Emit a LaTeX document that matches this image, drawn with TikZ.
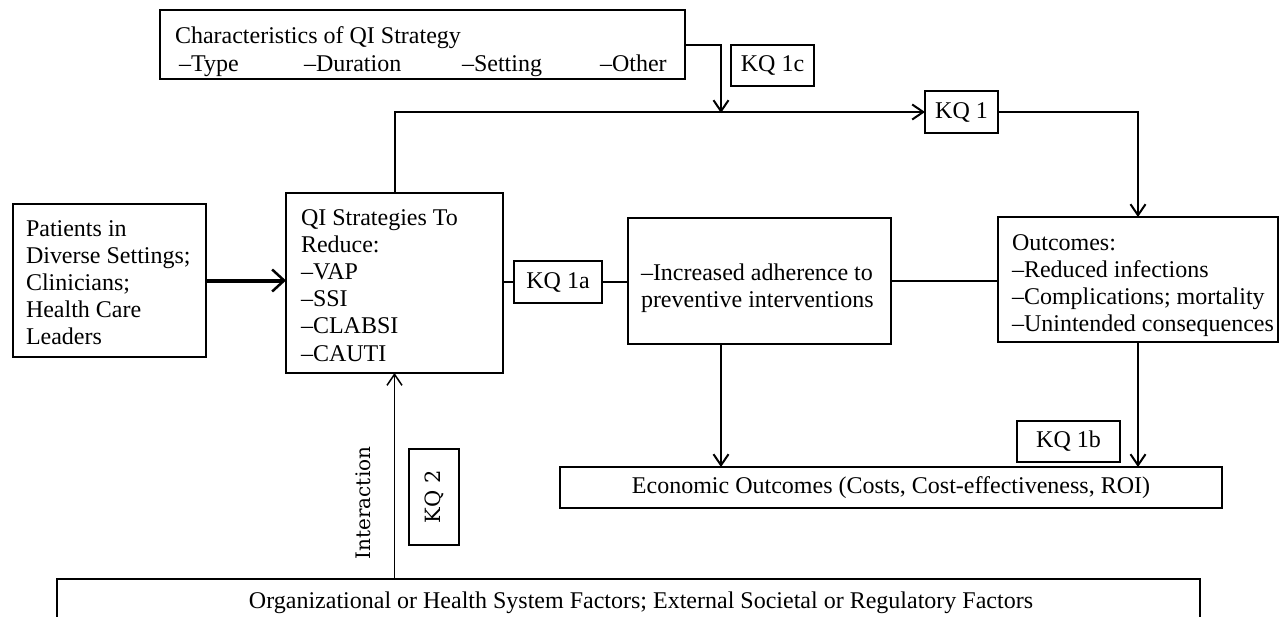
\documentclass[tikz,border=0pt]{standalone}
\usepackage{fontspec}
\setmainfont{Liberation Serif}
\newfontfamily\dvs{DejaVu Serif}
\usetikzlibrary{arrows.meta}
\tikzset{
  box/.style={draw, line width=2.5pt, rectangle, inner sep=0pt, outer sep=0pt, anchor=north west,
              font=\fontsize{24}{27.2}\selectfont},
  txt/.style={inner sep=0pt, outer sep=0pt, font=\fontsize{24}{27.2}\selectfont},
  mtxt/.style={txt, align=left, anchor=north west},
  conn/.style={line width=2pt},
  arr/.style={conn, -{Straight Barb[length=11pt, width=15pt]}},
  thinarr/.style={line width=1.5pt, -{Straight Barb[length=11pt, width=15pt]}},
  thickarr/.style={line width=4pt, -{Straight Barb[length=12pt, width=22pt, line width=2.5pt]}},
}
\begin{document}
\begin{tikzpicture}[x=1pt, y=-1pt]
\fill[white] (0,0) rectangle (1280,616);
\useasboundingbox (0,0) rectangle (1280,616);

% boxes
\node[box, minimum width=525pt, minimum height=69pt] (char) at (160,10) {};
\node[box, minimum width=83pt, minimum height=41pt] (kq1c) at (731,45) {KQ 1c};
\node[box, minimum width=73pt, minimum height=42pt] (kq1) at (925,91) {KQ 1};
\node[box, minimum width=193pt, minimum height=153pt] (pat) at (13,204) {};
\node[box, minimum width=217pt, minimum height=180pt] (qi) at (286,193) {};
\node[box, minimum width=88pt, minimum height=42pt] (kq1a) at (514,261) {KQ 1a};
\node[box, minimum width=263pt, minimum height=126pt] (adh) at (628,218) {};
\node[box, minimum width=280pt, minimum height=125pt] (out) at (998,217) {};
\node[box, minimum width=103pt, minimum height=41pt] (kq1b) at (1017,421) {KQ 1b};
\node[box, minimum width=662pt, minimum height=41pt] (econ) at (560,467)
  {Economic Outcomes (Costs, Cost-effectiveness, ROI)};
\node[box, minimum width=50pt, minimum height=96pt] (kq2) at (409,449) {};
\node[box, minimum width=1143pt, minimum height=60pt] (bot) at (57,579) {};

% texts
\node[txt, anchor=base west] (charT) at (175,43) {Characteristics of QI Strategy};
\node[txt, anchor=base west] (c1) at (179,71) {--Type};
\node[txt, anchor=base west] (c2) at (304,71) {--Duration};
\node[txt, anchor=base west] (c3) at (462,71) {--Setting};
\node[txt, anchor=base west] (c4) at (600,71) {--Other};
\node[mtxt] (patT) at (26,217) {\strut Patients in\\Diverse Settings;\\Clinicians;\\Health Care\\Leaders};
\node[mtxt] (qiT) at (301,206) {\strut QI Strategies To\\Reduce:\\--VAP\\--SSI\\--CLABSI\\--CAUTI};
\node[mtxt] (adhT) at (641,261) {\strut --Increased adherence to\\preventive interventions};
\node[mtxt] (outT) at (1012,231) {\strut Outcomes:\\--Reduced infections\\--Complications; mortality\\--Unintended consequences};
\node[txt] (botT) at (641,603) {Organizational or Health System Factors; External Societal or Regulatory Factors};
\node[txt, font=\dvs\fontsize{20}{24}\selectfont, rotate=90] (inter) at (363,503) {Interaction};
\node[txt, font=\dvs\fontsize{21}{24}\selectfont, rotate=90] (kq2T) at (kq2.center) {KQ 2};

% connectors
\coordinate (j) at (721,113);
\coordinate (ax) at (721,0);
\draw[thickarr] (pat.east) -- (qi.west |- pat.east);
\draw[conn] (qi.east |- kq1a.west) -- (kq1a.west);
\draw[conn] (kq1a.east) -- (adh.west |- kq1a.east);
\draw[conn] (adh.east) -- (out.west |- adh.east);
\draw[arr] (char.east) -| (j);
\draw[arr] (qi.north) |- (kq1.west);
\draw[arr] (kq1.east) -| (out.north);
\draw[arr] (adh.south -| ax) -- (econ.north -| ax);
\draw[arr] (out.south) -- (econ.north -| out.south);
\draw[thinarr] (bot.north -| qi.south) -- (qi.south);
\end{tikzpicture}
\end{document}
